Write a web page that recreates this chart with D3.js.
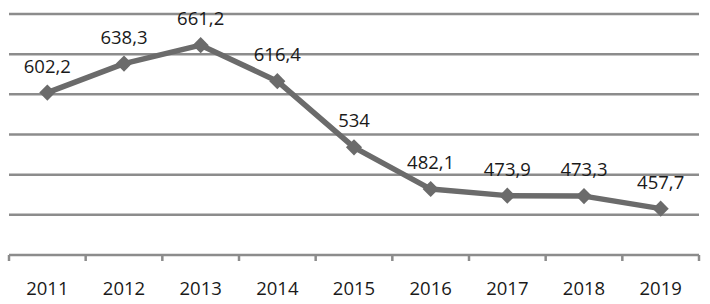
<!DOCTYPE html>
<html><head><meta charset="utf-8">
<script src="https://cdn.jsdelivr.net/npm/d3@7"></script>
<style>body{margin:0;background:#fff}svg{display:block}</style>
</head><body>
<script>
const years = ["2011","2012","2013","2014","2015","2016","2017","2018","2019"];
const values = [602.2, 638.3, 661.2, 616.4, 534, 482.1, 473.9, 473.3, 457.7];
const labels = ["602,2","638,3","661,2","616,4","534","482,1","473,9","473,3","457,7"];
const gridTicks = [450, 500, 550, 600, 650, 700];

(function () {
const W = 710, H = 304;
const mLeft = 9, mRight = 699, mTop = 14, mBottom = 255;
const svg = d3.select("body").append("svg").attr("width", W).attr("height", H);
const x = d3.scaleBand().domain(years).range([mLeft, mRight]);
const y = d3.scaleLinear().domain([400, 700]).range([mBottom, mTop]);
const font = "'Open Sans', 'DejaVu Sans', sans-serif";

svg.append("g").selectAll("line").data(gridTicks).join("line")
  .attr("x1", mLeft).attr("x2", mRight)
  .attr("y1", d => y(d)).attr("y2", d => y(d))
  .attr("stroke", "#8c8c8c").attr("stroke-width", 2.5);

const xAxis = svg.append("g").attr("transform", `translate(0,${mBottom})`);
xAxis.append("line").attr("x1", mLeft).attr("x2", mRight).attr("stroke", "#8c8c8c").attr("stroke-width", 2.5);
const bounds = years.map(d => x(d)).concat([mRight]);
xAxis.selectAll("line.tk").data(bounds).join("line").attr("class", "tk")
  .attr("x1", d => d).attr("x2", d => d).attr("y1", 0).attr("y2", 6)
  .attr("stroke", "#8c8c8c").attr("stroke-width", 2.5);
xAxis.selectAll("text").data(years).join("text")
  .attr("x", d => x(d) + x.bandwidth() / 2).attr("y", 40)
  .attr("text-anchor", "middle").attr("font-family", font).attr("font-size", 18.5)
  .attr("fill", "#1a1a1a").text(d => d);

const cx = i => x(years[i]) + x.bandwidth() / 2;
const line = d3.line().x((d, i) => cx(i)).y(d => y(d));
svg.append("path").datum(values).attr("d", line)
  .attr("fill", "none").attr("stroke", "#6b6b6b").attr("stroke-width", 5.5).attr("stroke-linejoin", "round");

const sym = d3.symbol().type(d3.symbolSquare).size(130);
svg.append("g").selectAll("path").data(values).join("path")
  .attr("d", sym).attr("transform", (d, i) => `translate(${cx(i)},${y(d)}) rotate(45)`)
  .attr("fill", "#6b6b6b");

svg.append("g").selectAll("text").data(values).join("text")
  .attr("x", (d, i) => cx(i)).attr("y", d => y(d) - 20)
  .attr("text-anchor", "middle").attr("font-family", font).attr("font-size", 18.5)
  .attr("fill", "#1a1a1a").text((d, i) => labels[i]);
})();
</script>
</body></html>
